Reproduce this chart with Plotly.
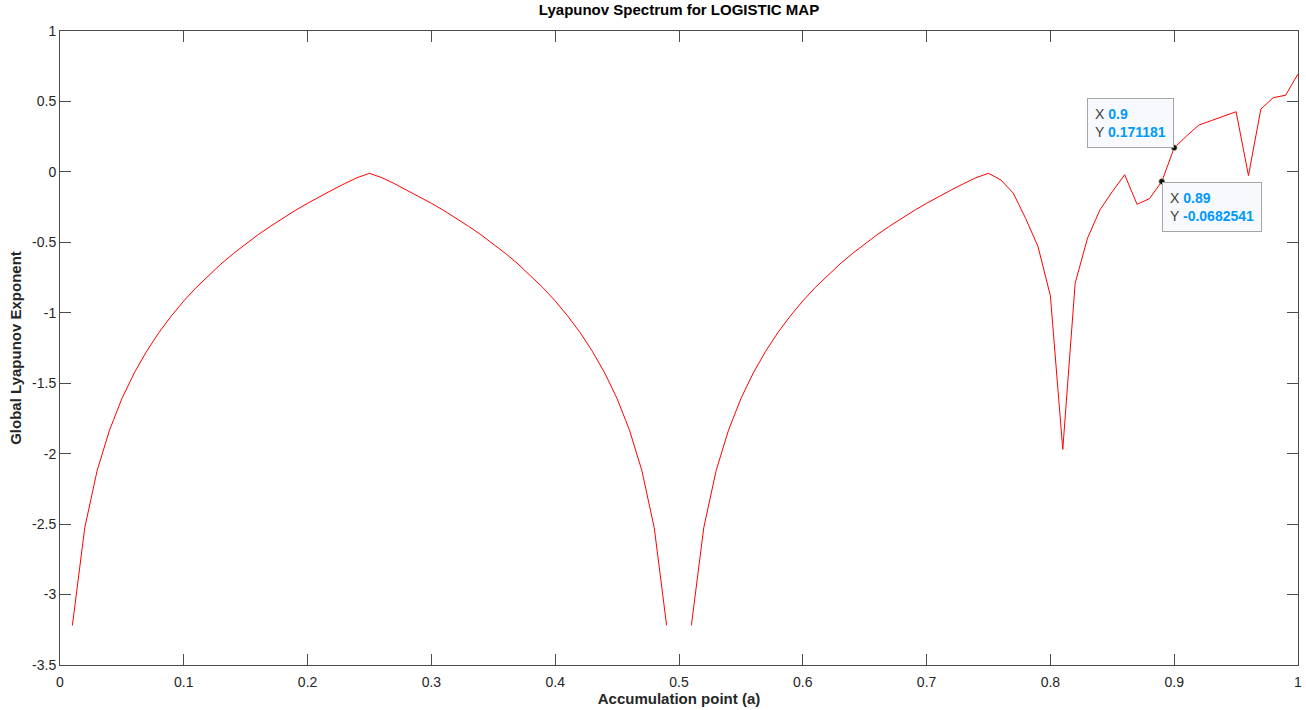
import numpy as np
import plotly.graph_objects as go

# Accumulation point a = 0.01 ... 1.00
a_values = np.round(np.arange(1, 101) * 0.01, 2)

# Global Lyapunov exponent for each a (None where the exponent diverges at a = 0.5)
lyap_part1 = [-3.219, -2.526, -2.120, -1.833, -1.609, -1.427, -1.273, -1.139, -1.022, -0.916,
              -0.821, -0.734, -0.654, -0.580, -0.511, -0.446, -0.386, -0.329, -0.274, -0.223,
              -0.174, -0.128, -0.083, -0.041, -0.010]
lyap_part2 = [-0.041, -0.083, -0.128, -0.174, -0.223, -0.274, -0.329, -0.386, -0.446, -0.511,
              -0.580, -0.654, -0.734, -0.821, -0.916, -1.022, -1.139, -1.273, -1.427, -1.609,
              -1.833, -2.120, -2.526, -3.219]
lyap_gap = [None]
lyap_part3 = [-3.219, -2.526, -2.120, -1.833, -1.609, -1.427, -1.273, -1.139, -1.022, -0.916,
              -0.821, -0.734, -0.654, -0.580, -0.511, -0.446, -0.386, -0.329, -0.274, -0.223,
              -0.174, -0.128, -0.083, -0.041]
lyap_part4 = [-0.010, -0.057, -0.151, -0.330, -0.530, -0.880, -1.970, -0.790, -0.470, -0.270,
              -0.140, -0.020, -0.230, -0.190, -0.0682541, 0.171181, 0.255, 0.333, 0.364, 0.397,
              0.427, -0.026, 0.446, 0.527, 0.544, 0.695]
lyap = lyap_part1 + lyap_part2 + lyap_gap + lyap_part3 + lyap_part4

# Data tips
tip_x = [0.9, 0.89]
tip_y = [0.171181, -0.0682541]
tip_x_text = ["0.9", "0.89"]
tip_y_text = ["0.171181", "-0.0682541"]
tip_anchor_x = ["right", "left"]
tip_anchor_y = ["bottom", "top"]

# Axis ticks
x_ticks = [0, 0.1, 0.2, 0.3, 0.4, 0.5, 0.6, 0.7, 0.8, 0.9, 1.0]
x_tick_labels = ["0", "0.1", "0.2", "0.3", "0.4", "0.5", "0.6", "0.7", "0.8", "0.9", "1"]
y_ticks = [-3.5, -3, -2.5, -2, -1.5, -1, -0.5, 0, 0.5, 1]
y_tick_labels = ["-3.5", "-3", "-2.5", "-2", "-1.5", "-1", "-0.5", "0", "0.5", "1"]

FONT = "Liberation Sans, Arial, sans-serif"
AX_COLOR = "#4a4a4a"
TXT_COLOR = "#262626"

fig = go.Figure()
fig.add_trace(go.Scatter(
    x=a_values, y=lyap, mode="lines",
    line=dict(color="#ff0000", width=1),
    connectgaps=False, showlegend=False, hoverinfo="x+y",
))
fig.add_trace(go.Scatter(
    x=tip_x, y=tip_y, mode="markers",
    marker=dict(color="#111111", size=6, line=dict(color="#d8d8a0", width=0.6)),
    showlegend=False, hoverinfo="skip",
))

for xv, yv, xt, yt, ax_, ay_ in zip(tip_x, tip_y, tip_x_text, tip_y_text, tip_anchor_x, tip_anchor_y):
    fig.add_annotation(
        x=xv, y=yv, xref="x", yref="y",
        xanchor=ax_, yanchor=ay_, showarrow=False, align="left",
        text=(f'<span style="color:#404040">X</span> <b style="color:#0099ff">{xt}</b><br>'
              f'<span style="color:#404040">Y</span> <b style="color:#0099ff">{yt}</b>'),
        font=dict(family=FONT, size=14),
        bgcolor="#f8f9fc", bordercolor="#a6a6a6", borderwidth=1, borderpad=7,
    )

axis_common = dict(
    showgrid=False, zeroline=False, showline=True, linecolor=AX_COLOR, linewidth=1,
    mirror="ticks", ticks="inside", ticklen=11, tickcolor=AX_COLOR, tickwidth=1,
    tickfont=dict(family=FONT, size=14, color=TXT_COLOR), automargin=False,
)

fig.update_xaxes(
    range=[0, 1], tickmode="array", tickvals=x_ticks, ticktext=x_tick_labels,
    ticklabelstandoff=4,
    title=dict(text="<b>Accumulation point (a)</b>", standoff=3,
               font=dict(family=FONT, size=15, color=TXT_COLOR)),
    **axis_common,
)
fig.update_yaxes(
    range=[-3.5, 1], tickmode="array", tickvals=y_ticks, ticktext=y_tick_labels,
    title=dict(text="<b>Global Lyapunov Exponent</b>", standoff=6,
               font=dict(family=FONT, size=15, color=TXT_COLOR)),
    **axis_common,
)

fig.update_layout(
    width=1306, height=710,
    margin=dict(l=60, r=8, t=31, b=45),
    paper_bgcolor="white", plot_bgcolor="white",
    title=dict(text="<b>Lyapunov Spectrum for LOGISTIC MAP</b>",
               x=0.5, xref="paper", xanchor="center",
               y=1 - 10 / 710, yref="container", yanchor="middle",
               font=dict(family=FONT, size=15, color="#000000")),
)

fig.write_html("out.html")
